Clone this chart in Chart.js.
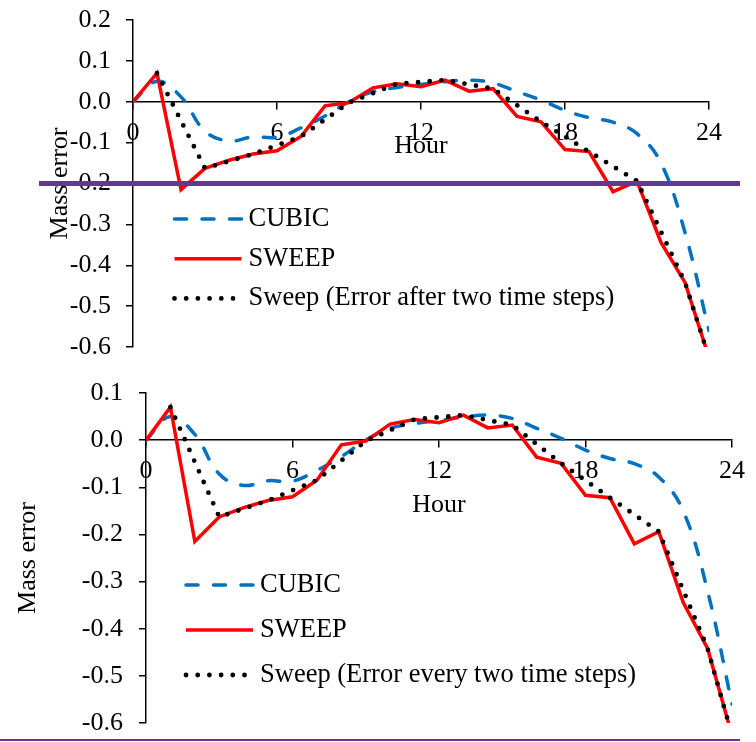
<!DOCTYPE html>
<html>
<head>
<meta charset="utf-8">
<title>Mass error</title>
<script src="https://cdn.jsdelivr.net/npm/chart.js@4/dist/chart.umd.min.js"></script>
<style>
  html, body { margin: 0; padding: 0; background: #fff; }
  #wrap { position: relative; width: 756px; height: 742px; overflow: hidden; }
  canvas { position: absolute; left: 0; }
  .rule { position: absolute; background: #5e3a96; }
</style>
</head>
<body>
<div id="wrap">
  <canvas id="chart-top" width="756" height="370" style="top:0"></canvas>
  <canvas id="chart-bottom" width="756" height="372" style="top:370px"></canvas>
  <div class="rule" style="left:39px;top:181px;width:701px;height:5px"></div>
  <div class="rule" style="left:0;top:739px;width:740px;height:2px"></div>
</div>
<script>
const hours = [0, 1, 2, 3, 4, 5, 6, 7, 8, 9, 10, 11, 12, 13, 14, 15, 16, 17, 18, 19, 20, 21, 22, 23, 24];
const cubic = [0, 0.05, 0.012, -0.072, -0.096, -0.086, -0.087, -0.064, -0.035, 0.0, 0.025, 0.035, 0.042, 0.049, 0.053, 0.046, 0.025, 0.004, -0.021, -0.039, -0.05, -0.078, -0.15, -0.32, -0.56];
const sweep = [0, 0.07, -0.215, -0.163, -0.143, -0.128, -0.12, -0.085, -0.01, -0.002, 0.034, 0.044, 0.037, 0.053, 0.026, 0.032, -0.036, -0.049, -0.117, -0.122, -0.22, -0.194, -0.344, -0.442, -0.626];
// sweep error sampled every two steps
const sweepEveryTwoHours = [1, 3, 5, 7, 9, 11, 13, 15, 17, 19, 21, 23, 24];
const sweepEveryTwo = [0.07, -0.163, -0.128, -0.085, -0.002, 0.044, 0.053, 0.032, -0.049, -0.122, -0.194, -0.442, -0.626];
const xTicks = [0, 6, 12, 18, 24];

const SERIF = '"Liberation Serif", "Times New Roman", serif';
Chart.defaults.font.family = SERIF;
Chart.defaults.color = '#000';

const points = (xs, ys) => xs.map((x, i) => ({ x: x, y: ys[i] }));

const insideLegend = {
  id: 'insideLegend',
  afterDatasetsDraw(chart, args, opts) {
    const ctx = chart.ctx;
    ctx.save();
    chart.data.datasets.forEach((ds, i) => {
      const y = opts.top + i * opts.rowGap;
      ctx.beginPath();
      ctx.strokeStyle = ds.borderColor;
      ctx.lineWidth = ds.borderWidth;
      ctx.lineCap = ds.borderCapStyle;
      ctx.setLineDash(ds.borderDash || []);
      ctx.moveTo(opts.left, y);
      ctx.lineTo(opts.left + opts.sampleWidth, y);
      ctx.stroke();
      ctx.setLineDash([]);
      ctx.fillStyle = '#000';
      ctx.font = '26.5px ' + SERIF;
      ctx.textBaseline = 'middle';
      ctx.fillText(ds.label, opts.left + opts.sampleWidth + 7, y);
    });
    ctx.restore();
  }
};

function makeDatasets(dottedLabel) {
  return [
    {
      label: 'CUBIC',
      data: points(hours, cubic),
      borderColor: '#0070c0',
      borderWidth: 3.5,
      borderDash: [12, 15.5],
      borderCapStyle: 'round',
      tension: 0.4,
      pointRadius: 0,
      order: 2
    },
    {
      label: 'SWEEP',
      data: points(hours, sweep),
      borderColor: '#ff0000',
      borderWidth: 3.5,
      borderCapStyle: 'butt',
      borderJoinStyle: 'miter',
      tension: 0,
      pointRadius: 0,
      order: 1
    },
    {
      label: dottedLabel,
      data: points(sweepEveryTwoHours, sweepEveryTwo),
      borderColor: '#000',
      borderWidth: 4.8,
      borderDash: [0, 11.7],
      borderCapStyle: 'round',
      tension: 0,
      pointRadius: 0,
      order: 0
    }
  ];
}

function makeChart(id, cfg) {
  return new Chart(document.getElementById(id), {
    type: 'line',
    data: { datasets: makeDatasets(cfg.dottedLabel) },
    plugins: [insideLegend],
    options: {
      responsive: false,
      animation: false,
      layout: { padding: cfg.padding },
      plugins: {
        legend: { display: false },
        tooltip: { enabled: false },
        insideLegend: cfg.legend
      },
      scales: {
        x: {
          type: 'linear',
          min: 0,
          max: 24,
          position: { y: 0 },
          afterBuildTicks: s => { s.ticks = xTicks.map(v => ({ value: v })); },
          ticks: { padding: 8.4, maxRotation: 0, font: { size: 26 } },
          grid: { drawOnChartArea: false, tickLength: 7, color: '#000', lineWidth: 1.5 },
          border: { color: '#000', width: 1.5 },
          title: { display: true, text: 'Hour', font: { size: 26 }, padding: { top: cfg.xTitlePad, bottom: 0 } }
        },
        y: {
          min: cfg.yMin,
          max: cfg.yMax,
          afterFit: s => {
            s.width = cfg.yWidth;
            // let the layout padding alone decide the plot height
            s.paddingTop = 0;
            s.paddingBottom = 0;
          },
          ticks: {
            stepSize: 0.1,
            padding: cfg.yTickPad,
            font: { size: 26 },
            callback: v => (Math.round(v * 10) / 10).toFixed(1)
          },
          grid: { drawOnChartArea: false, tickLength: 7, color: '#000', lineWidth: 1.5 },
          border: { color: '#000', width: 1.5 },
          title: { display: true, text: 'Mass error', font: { size: 26 }, padding: { top: cfg.yTitlePad, bottom: 0 } }
        }
      }
    }
  });
}

makeChart('chart-top', {
  dottedLabel: 'Sweep (Error after two time steps)',
  yMin: -0.6, yMax: 0.2,
  yWidth: 133, yTickPad: 15, yTitlePad: 45, xTitlePad: -26,
  padding: { left: 0, right: 47, top: 20, bottom: 23 },
  legend: { left: 174.5, top: 219, rowGap: 39.7, sampleWidth: 67 }
});

makeChart('chart-bottom', {
  dottedLabel: 'Sweep (Error every two time steps)',
  yMin: -0.6, yMax: 0.1,
  yWidth: 146, yTickPad: 16, yTitlePad: 12.4, xTitlePad: -5.2,
  padding: { left: 0, right: 24, top: 23, bottom: 19 },
  legend: { left: 186, top: 215, rowGap: 45, sampleWidth: 67 }
});
</script>
</body>
</html>
